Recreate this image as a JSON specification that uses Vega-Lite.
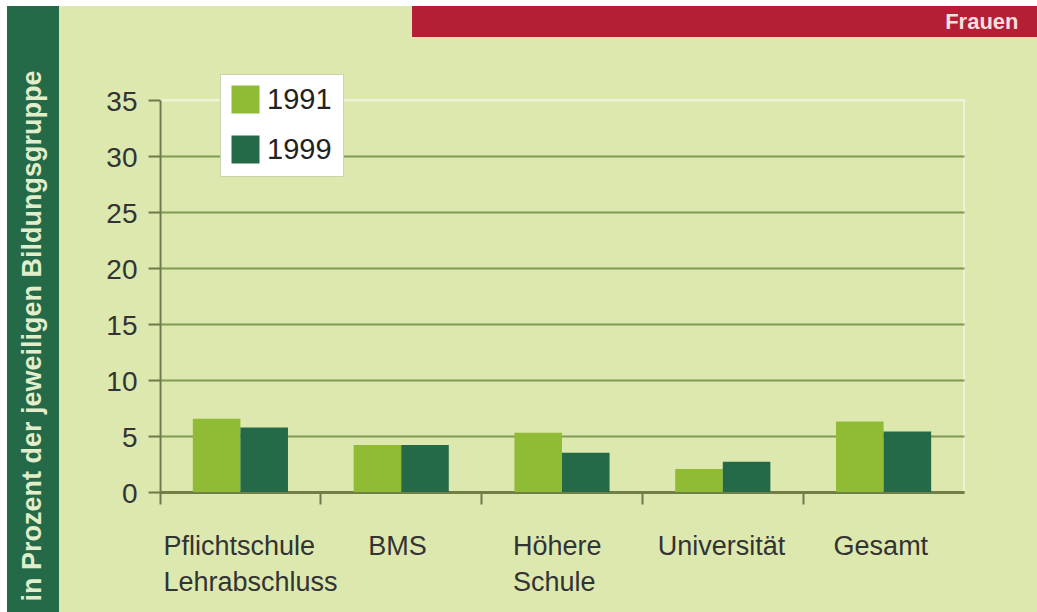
{
  "$schema": "https://vega.github.io/schema/vega-lite/v6.json",
  "background": "#dde8ae",
  "padding": 0,
  "bounds": "flush",
  "spacing": 0,
  "config": {
    "view": {"stroke": null},
    "font": "Liberation Sans"
  },
  "resolve": {"scale": {"color": "independent"}, "legend": {"color": "independent"}},
  "vconcat": [
    {
      "width": 1037,
      "height": 6,
      "view": {"fill": "#ffffff", "stroke": null},
      "data": {"values": [{"t": ""}]},
      "mark": {"type": "rect", "opacity": 0},
      "encoding": {}
    },
    {
      "bounds": "flush",
      "spacing": 0,
      "resolve": {"scale": {"color": "independent"}, "legend": {"color": "independent"}},
      "hconcat": [
        {
          "width": 7,
          "height": 606,
          "view": {"fill": "#ffffff", "stroke": null},
          "data": {"values": [{"t": ""}]},
          "mark": {"type": "rect", "opacity": 0},
          "encoding": {}
        },
        {
          "bounds": "flush",
          "spacing": 101,
          "resolve": {"scale": {"color": "independent"}, "legend": {"color": "independent"}},
          "hconcat": [
            {
              "width": 52,
              "height": 606,
              "view": {"fill": "#256a48", "stroke": null},
              "data": {"values": [{"t": "in Prozent der jeweiligen Bildungsgruppe"}]},
              "mark": {"type": "text", "angle": 270, "font": "Liberation Sans", "fontWeight": "bold", "fontSize": 27, "color": "#e2eecb", "align": "center", "baseline": "middle", "dx": -27},
              "encoding": {"text": {"field": "t"}}
            },
            {
              "bounds": "flush",
              "spacing": 94,
              "resolve": {"scale": {"color": "independent"}, "legend": {"color": "independent"}},
              "vconcat": [
                {
                  "bounds": "flush",
                  "spacing": 0,
                  "hconcat": [
                    {
                      "width": 252,
                      "height": 31,
                      "data": {"values": [{"t": ""}]},
                      "mark": {"type": "rect", "opacity": 0},
                      "encoding": {}
                    },
                    {
                      "width": 625,
                      "height": 31,
                      "view": {"fill": "#b51f35", "stroke": null},
                      "data": {"values": [{"t": "Frauen"}]},
                      "mark": {"type": "text", "font": "Liberation Sans", "fontWeight": "bold", "fontSize": 22, "color": "#f6dede", "align": "right", "baseline": "middle", "dx": 294},
                      "encoding": {"text": {"field": "t"}}
                    }
                  ]
                },
                {
                  "width": 804,
                  "height": 392,
                  "view": {"stroke": "#eef3d5", "strokeWidth": 2},
                  "data": {
                    "values": [
                      {"gruppe": "Pflichtschule|Lehrabschluss", "jahr": "1991", "wert": 6.55},
                      {"gruppe": "Pflichtschule|Lehrabschluss", "jahr": "1999", "wert": 5.75},
                      {"gruppe": "BMS", "jahr": "1991", "wert": 4.2},
                      {"gruppe": "BMS", "jahr": "1999", "wert": 4.2},
                      {"gruppe": "Höhere|Schule", "jahr": "1991", "wert": 5.3},
                      {"gruppe": "Höhere|Schule", "jahr": "1999", "wert": 3.5},
                      {"gruppe": "Universität", "jahr": "1991", "wert": 2.05},
                      {"gruppe": "Universität", "jahr": "1999", "wert": 2.7},
                      {"gruppe": "Gesamt", "jahr": "1991", "wert": 6.3},
                      {"gruppe": "Gesamt", "jahr": "1999", "wert": 5.4}
                    ]
                  },
                  "mark": {"type": "bar"},
                  "encoding": {
                    "x": {
                      "field": "gruppe",
                      "type": "nominal",
                      "sort": null,
                      "scale": {"paddingInner": 0, "paddingOuter": 0},
                      "axis": {
                        "title": null,
                        "orient": "bottom",
                        "bandPosition": 0,
                        "labelAngle": 0,
                        "labelExpr": "split(datum.label, '|')",
                        "labelFont": "Liberation Sans",
                        "labelFontSize": 27,
                        "labelColor": "#333333",
                        "labelLineHeight": 36,
                        "labelPadding": 29,
                        "labelAlign": "left",
                        "labelOffset": {
                          "condition": [
                            {"test": "datum.value === 'Pflichtschule|Lehrabschluss'", "value": -77},
                            {"test": "datum.value === 'BMS'", "value": -33},
                            {"test": "datum.value === 'Höhere|Schule'", "value": -49},
                            {"test": "datum.value === 'Universität'", "value": -65}
                          ],
                          "value": -50
                        },
                        "domainColor": "#6f7f45",
                        "domainWidth": 3,
                        "ticks": true,
                        "tickSize": 12,
                        "tickWidth": 2,
                        "tickColor": "#6b7a4a",
                        "grid": false
                      }
                    },
                    "xOffset": {
                      "field": "jahr",
                      "type": "nominal",
                      "scale": {"paddingInner": 0, "paddingOuter": 0.69}
                    },
                    "y": {
                      "field": "wert",
                      "type": "quantitative",
                      "scale": {"domain": [0, 35], "nice": false},
                      "axis": {
                        "title": null,
                        "values": [0, 5, 10, 15, 20, 25, 30, 35],
                        "labelFont": "Liberation Sans",
                        "labelFontSize": 28,
                        "labelColor": "#333333",
                        "labelPadding": 11,
                        "labelOffset": 2,
                        "domainColor": "#6b7a4a",
                        "domainWidth": 2,
                        "tickSize": 12,
                        "tickWidth": 2,
                        "tickColor": "#6b7a4a",
                        "grid": true,
                        "gridWidth": 2,
                        "gridColor": {"condition": {"test": "datum.value === 35", "value": "#eef3d5"}, "value": "#7f9a52"}
                      }
                    },
                    "color": {
                      "field": "jahr",
                      "type": "nominal",
                      "scale": {"domain": ["1991", "1999"], "range": ["#8fbc34", "#256a48"]},
                      "legend": {
                        "title": null,
                        "orient": "none",
                        "legendX": 60,
                        "legendY": -26,
                        "fillColor": "#ffffff",
                        "strokeColor": "#c9d3ad",
                        "padding": 11,
                        "symbolType": "square",
                        "symbolSize": 784,
                        "symbolStrokeWidth": 0,
                        "labelExpr": "datum.label + '\u00a0'",
                        "labelFont": "Liberation Sans",
                        "labelFontSize": 29,
                        "labelColor": "#222222",
                        "labelOffset": 7,
                        "rowPadding": 20
                      }
                    }
                  }
                }
              ]
            }
          ]
        }
      ]
    }
  ]
}
